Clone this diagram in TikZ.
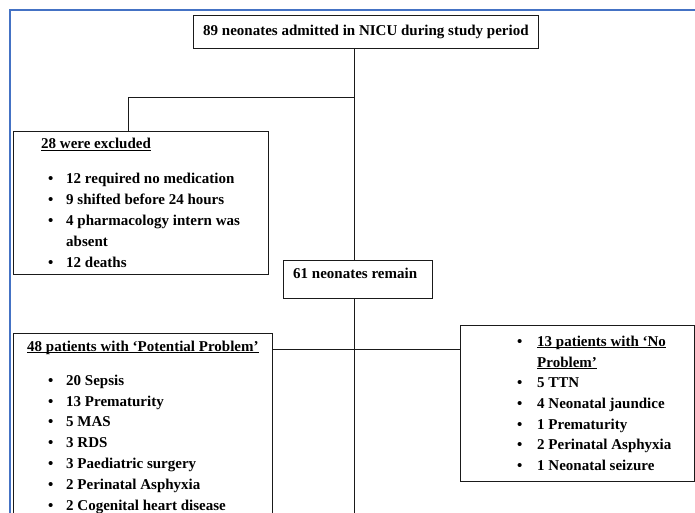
\documentclass[tikz,border=0pt]{standalone}
\usepackage{fontspec}
\setmainfont{Liberation Serif}
\definecolor{frame}{HTML}{4472C4}
\definecolor{ink}{HTML}{1A1A1A}
\tikzset{
  box/.style={draw=ink,line width=1.1pt,inner sep=0pt,anchor=north west},
  txt/.style={anchor=base west,inner sep=0pt,font=\fontsize{15}{21}\selectfont\bfseries},
  link/.style={draw=ink,line width=0.9pt},
}
\newcommand{\hd}[1]{\underline{\smash{#1}}}

\begin{document}
\begin{tikzpicture}[x=1pt,y=-1pt]
\useasboundingbox (0,0) rectangle (695,513);
\clip (0,0) rectangle (695,513);
\draw[frame,line width=1.4pt] (10,520) -- (10,10) -- (700,10);

% boxes
\node[box,minimum width=345pt,minimum height=33pt] (admit) at (193,15) {};
\node[box,minimum width=255pt,minimum height=143pt] (excl) at (13,131) {};
\node[box,minimum width=149pt,minimum height=38pt] (remain) at (283,260) {};
\node[box,minimum width=259pt,minimum height=200pt] (pot) at (13,333) {};
\node[box,minimum width=234pt,minimum height=156pt] (nop) at (460,325) {};

% texts
\node[txt] (admitT) at (203,36) {89 neonates admitted in NICU during study period};
\node[txt] (remainT) at (293,278) {61 neonates remain};

\node[txt] (exclH) at (41,149) {\hd{28 were excluded}};
\foreach \y/\t [count=\i] in {183/12 required no medication,204/9 shifted before 24 hours,
    225/4 pharmacology intern was,267/12 deaths}{
  \node[txt] (exclD\i) at (48,\y) {\textbullet};
  \node[txt] (exclI\i) at (66,\y) {\t};
}
\node[txt] (exclW) at (66,246) {absent};

\node[txt] (potH) at (27,351) {\hd{48 patients with ‘Potential Problem’}};
\foreach \y/\t [count=\i] in {385/20 Sepsis,406/13 Prematurity,426/5 MAS,447/3 RDS,
    468/3 Paediatric surgery,489/2 Perinatal Asphyxia,510/2 Cogenital heart disease}{
  \node[txt] (potD\i) at (48,\y) {\textbullet};
  \node[txt] (potI\i) at (66,\y) {\t};
}

\node[txt] (nopD0) at (517,346) {\textbullet};
\node[txt] (nopH) at (537,346) {\hd{13 patients with ‘No}};
\node[txt] (nopW) at (537,367) {\hd{Problem’}};
\foreach \y/\t [count=\i] in {387/5 TTN,408/4 Neonatal jaundice,429/1 Prematurity,
    449/2 Perinatal Asphyxia,470/1 Neonatal seizure}{
  \node[txt] (nopD\i) at (517,\y) {\textbullet};
  \node[txt] (nopI\i) at (537,\y) {\t};
}

% connectors
\coordinate (spine) at (354,0);
\coordinate (fork) at (354,97);
\coordinate (leftx) at (128,0);
\coordinate (splity) at (0,349);
\coordinate (bottom) at (354,520);
\draw[link] (admit.south -| spine) -- (remain.north -| spine);
\draw[link] (fork) -| (excl.north -| leftx);
\draw[link] (remain.south -| spine) -- (bottom);
\draw[link] (pot.east |- splity) -- (nop.west |- splity);
\end{tikzpicture}
\end{document}
